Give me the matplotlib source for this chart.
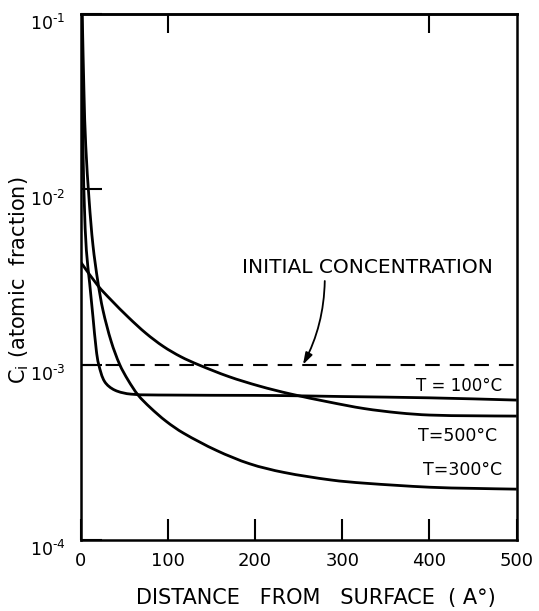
import numpy as np
import matplotlib
matplotlib.use("Agg")
import matplotlib.pyplot as plt
from matplotlib.path import Path
from matplotlib.patches import PathPatch
from matplotlib.ticker import FixedLocator, NullLocator, FixedFormatter
from matplotlib.transforms import ScaledTranslation

plt.rcParams["font.family"] = ["DejaVu Sans"]
plt.rcParams["mathtext.fontset"] = "dejavusans"

# Solute concentration profiles below the surface (distance in angstroms)
dist_100 = [1.5, 2.2, 3.2, 4.5, 6.7, 10.5, 14.3, 18.1, 20.9, 27.7, 39.2, 58,
            100, 200, 244, 300, 400, 500]
conc_100 = [1.00e-1, 3.16e-2, 1.41e-2, 7.94e-3, 4.51e-3, 2.91e-3, 1.87e-3,
            1.21e-3, 1.00e-3, 8.0e-4, 7.16e-4, 6.79e-4, 6.71e-4, 6.68e-4,
            6.65e-4, 6.58e-4, 6.47e-4, 6.28e-4]

dist_300 = [2, 4, 6, 10, 14.3, 20, 25.8, 35.3, 45, 54.5, 66, 80, 98, 118,
            156, 194, 233, 287, 325, 400, 450, 500]
conc_300 = [1.00e-1, 3.55e-2, 1.78e-2, 8.51e-3, 4.79e-3, 2.95e-3, 2.04e-3,
            1.35e-3, 1.00e-3, 8.17e-4, 6.71e-4, 5.69e-4, 4.76e-4, 4.07e-4,
            3.24e-4, 2.72e-4, 2.43e-4, 2.20e-4, 2.11e-4, 2.00e-4, 1.97e-4,
            1.95e-4]

dist_500 = [0, 20, 35, 55, 75, 95, 115, 135, 170, 205, 240, 285, 325, 365,
            400, 450, 500]
conc_500 = [3.86e-3, 2.82e-3, 2.34e-3, 1.86e-3, 1.51e-3, 1.27e-3, 1.11e-3,
            1.00e-3, 8.55e-4, 7.55e-4, 6.82e-4, 6.12e-4, 5.62e-4, 5.31e-4,
            5.16e-4, 5.11e-4, 5.09e-4]

initial_conc = 1.0e-3

x_ticks = [0, 100, 200, 300, 400, 500]
x_tick_labels = ["0", "100", "200", "300", "400", "500"]
y_ticks = [1e-4, 1e-3, 1e-2, 1e-1]
y_exponents = ["4", "3", "2", "1"]
top_ticks = [100, 400]

W, H = 539, 611
fig = plt.figure(figsize=(W / 100, H / 100), dpi=100)
ax = fig.add_axes([80.5 / W, 1 - 540 / H, (516.7 - 80.5) / W, (540 - 14) / H])
ax.set_yscale("log")
ax.set_xlim(0, 500)
ax.set_ylim(1e-4, 1e-1)


def smooth_curve(ax, xs, ys, **kw):
    """Draw a curve through the points as a chord-length cubic spline path."""
    to_disp = ax.transData
    p = to_disp.transform(np.column_stack([xs, ys]))
    t = np.concatenate([[0], np.cumsum(np.hypot(*np.diff(p, axis=0).T))])
    n = len(p)
    m = np.empty_like(p)
    m[0] = (p[1] - p[0]) / (t[1] - t[0])
    m[-1] = (p[-1] - p[-2]) / (t[-1] - t[-2])
    for i in range(1, n - 1):
        m[i] = (p[i + 1] - p[i - 1]) / (t[i + 1] - t[i - 1])
    verts = [p[0]]
    codes = [Path.MOVETO]
    for i in range(n - 1):
        h = t[i + 1] - t[i]
        verts += [p[i] + m[i] * h / 3, p[i + 1] - m[i + 1] * h / 3, p[i + 1]]
        codes += [Path.CURVE4] * 3
    data_verts = to_disp.inverted().transform(np.array(verts))
    ax.add_patch(PathPatch(Path(data_verts, codes), fill=False,
                           transform=ax.transData, **kw))


curve_kw = dict(edgecolor="black", lw=2.0, capstyle="butt", joinstyle="round")
smooth_curve(ax, dist_100, conc_100, **curve_kw)
smooth_curve(ax, dist_300, conc_300, **curve_kw)
smooth_curve(ax, dist_500, conc_500, **curve_kw)
ax.axhline(initial_conc, color="black", lw=1.5, linestyle=(0, (7.0, 4.8)))

hyphen = "\u2010"
y_tick_labels = [r"$10^{" + hyphen + e + "}$" for e in y_exponents]

ax.xaxis.set_major_locator(FixedLocator(x_ticks))
ax.xaxis.set_major_formatter(FixedFormatter(x_tick_labels))
ax.yaxis.set_major_locator(FixedLocator(y_ticks))
ax.yaxis.set_major_formatter(FixedFormatter(y_tick_labels))
ax.xaxis.set_minor_locator(NullLocator())
ax.yaxis.set_minor_locator(NullLocator())
ax.tick_params(which="major", direction="in", length=15, width=1.5,
               top=False, right=False, labelsize=13, pad=9)
ax.tick_params(axis="y", pad=11, labelsize=12.5)

# upper axis carries only two ticks
top = ax.secondary_xaxis("top")
top.set_xticks(top_ticks)
top.tick_params(direction="in", length=14, width=1.5, labeltop=False)
top.spines["top"].set_linewidth(1.8)

for sp in ax.spines.values():
    sp.set_linewidth(1.8)

# nudge the power-of-ten labels so the mantissa sits just under its tick
shift = ScaledTranslation(0, -6 / 72, fig.dpi_scale_trans)
for lbl in ax.get_yticklabels():
    lbl.set_transform(lbl.get_transform() + shift)

fig.text(316 / W, 1 - 598 / H, "DISTANCE   FROM   SURFACE  ( A°)",
         ha="center", va="center", fontsize=15)
fig.text(19 / W, 1 - 280 / H, r"C$_\mathregular{i}$ (atomic  fraction)",
         ha="center", va="center", rotation=90, fontsize=15)

ax.text(329, 3.56e-3, "INITIAL CONCENTRATION", ha="center", va="center",
        fontsize=14.5)
ax.annotate("", xy=(255, initial_conc), xytext=(280, 3.0e-3),
            arrowprops=dict(arrowstyle="-|>,head_length=0.7,head_width=0.22",
                            connectionstyle="arc3,rad=-0.12", color="black",
                            lw=1.3, shrinkA=0, shrinkB=0))

ax.text(483, 7.6e-4, "T = 100°C", ha="right", va="center", fontsize=12)
ax.text(477, 3.9e-4, "T=500°C", ha="right", va="center", fontsize=12.5)
ax.text(483, 2.5e-4, "T=300°C", ha="right", va="center", fontsize=12.5)

fig.savefig("out.png", dpi=100)
